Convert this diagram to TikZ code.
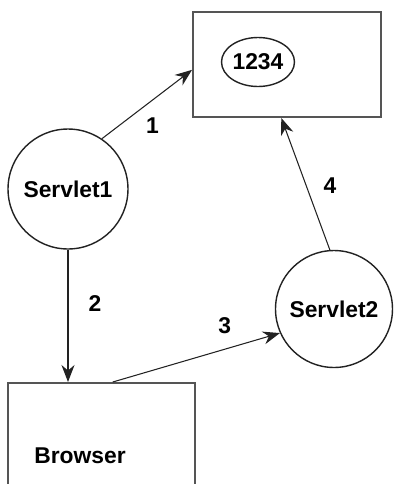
\documentclass[tikz,border=0pt]{standalone}
\usepackage{fontspec}
\setmainfont{Liberation Sans}
\usetikzlibrary{arrows.meta,shapes.geometric,calc}
\definecolor{cInk}{HTML}{222222}
\definecolor{cFrame}{HTML}{555555}
\tikzset{
  box/.style   = {draw=cFrame, line width=1.1pt, inner sep=0pt},
  proc/.style  = {circle, draw=cInk, line width=0.8pt, minimum size=2.4cm,
                  inner sep=0pt, font=\fontsize{13}{15}\selectfont\bfseries},
  val/.style   = {ellipse, draw=cInk, line width=0.8pt, inner sep=0pt,
                  font=\fontsize{13}{15}\selectfont\bfseries},
  flow/.style  = {-{Stealth[length=3.4mm,width=2.6mm]}, draw=cInk, line width=0.6pt},
  num/.style   = {font=\fontsize{13}{15}\selectfont\bfseries, inner sep=0pt},
}
\begin{document}
\begin{tikzpicture}[x=0.02cm, y=-0.02cm]
  \clip (0,0) rectangle (393,484);
  \node[box, minimum width=3.76cm, minimum height=2.1cm] (store) at (287,64.5) {};
  \node[val, minimum width=1.46cm, minimum height=0.98cm] (id) at (258,62) {1234};
  \node[proc] (s1) at (68,189) {Servlet1};
  \node[proc, minimum size=2.34cm] (s2) at (334,309) {Servlet2};
  \node[box, anchor=north west, minimum width=3.74cm, minimum height=2.4cm]
    (browser) at (7,382) {};
  \node[num] (browserlbl) at (80,456) {Browser};
  \draw[flow] (s1.56) -- node[num, pos=0.5, xshift=0.11cm, yshift=-0.43cm] {1}
    ($(store.north west)!0.55!(store.south west)$);
  \draw[flow] (s1.south) -- node[num, pos=0.41, xshift=0.54cm] {2}
    (s1.south |- browser.north);
  \draw[flow] ($(browser.north west)!0.56!(browser.north east)$)
    -- node[num, pos=0.67, yshift=0.48cm] {3} (s2.204);
  \draw[flow] (s2.94) -- node[num, pos=0.49, xshift=0.48cm] {4}
    ($(store.south west)!0.47!(store.south east)$);
\end{tikzpicture}
\end{document}
